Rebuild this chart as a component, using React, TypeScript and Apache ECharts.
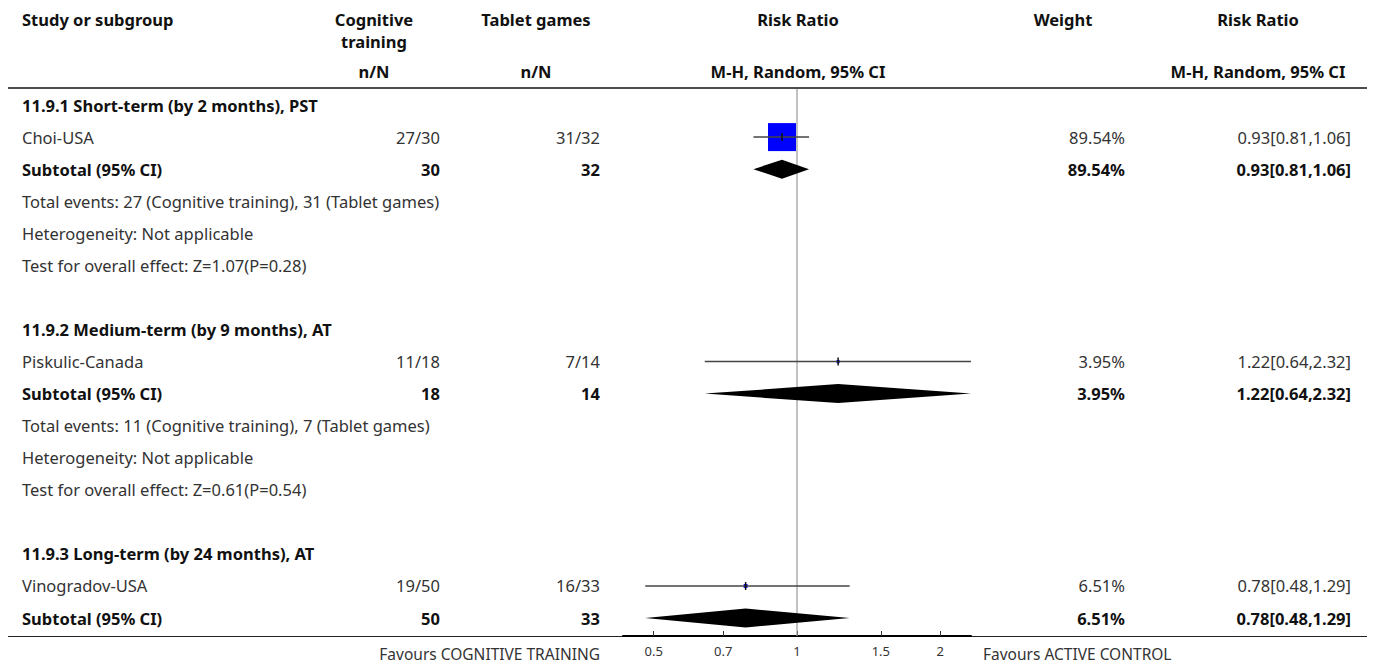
import React, { useEffect, useRef } from 'react';
import * as echarts from 'echarts';

// ---------- data ----------
const rowLabels = [
  '11.9.1 Short-term (by 2 months), PST',
  'Choi-USA',
  'Subtotal (95% CI)',
  'Total events: 27 (Cognitive training), 31 (Tablet games)',
  'Heterogeneity: Not applicable',
  'Test for overall effect: Z=1.07(P=0.28)',
  '',
  '11.9.2 Medium-term (by 9 months), AT',
  'Piskulic-Canada',
  'Subtotal (95% CI)',
  'Total events: 11 (Cognitive training), 7 (Tablet games)',
  'Heterogeneity: Not applicable',
  'Test for overall effect: Z=0.61(P=0.54)',
  '',
  '11.9.3 Long-term (by 24 months), AT',
  'Vinogradov-USA',
  'Subtotal (95% CI)',
];
const rowKinds = [
  'heading', 'study', 'subtotal', 'note', 'note', 'note', 'blank',
  'heading', 'study', 'subtotal', 'note', 'note', 'note', 'blank',
  'heading', 'study', 'subtotal',
];
const cognitiveValues = ['', '27/30', '30', '', '', '', '', '', '11/18', '18', '', '', '', '', '', '19/50', '50'];
const tabletValues = ['', '31/32', '32', '', '', '', '', '', '7/14', '14', '', '', '', '', '', '16/33', '33'];
const weightValues = ['', '89.54%', '89.54%', '', '', '', '', '', '3.95%', '3.95%', '', '', '', '', '', '6.51%', '6.51%'];
const ratioValues = [
  '', '0.93[0.81,1.06]', '0.93[0.81,1.06]', '', '', '', '', '',
  '1.22[0.64,2.32]', '1.22[0.64,2.32]', '', '', '', '', '',
  '0.78[0.48,1.29]', '0.78[0.48,1.29]',
];

const studyRows = [1, 8, 15];
const studyRR = [0.93, 1.22, 0.78];
const studyLow = [0.81, 0.64, 0.48];
const studyHigh = [1.06, 2.32, 1.29];
const studyWeight = [89.54, 3.95, 6.51];

const subtotalRows = [2, 9, 16];
const subtotalRR = [0.93, 1.22, 0.78];
const subtotalLow = [0.81, 0.64, 0.48];
const subtotalHigh = [1.06, 2.32, 1.29];

const tickValues = [0.5, 0.7, 1, 1.5, 2];
const axisMaxRatio = 2.32;

// ---------- styles ----------
const FONT = '"Noto Sans", Lato, sans-serif';
const FS = 16.5;
const BOLD_COLOR = '#111';
const TEXT_COLOR = '#333';

export default function App() {
  const ref = useRef<HTMLDivElement>(null);

  useEffect(() => {
    if (!ref.current) return;
    const chart = echarts.init(ref.current, null, { renderer: 'svg' });

    const headerText = (text: string, x: number, y: number, align: string) => ({
      type: 'text',
      style: {
        text, x, y, align, verticalAlign: 'middle',
        fontFamily: FONT, fontSize: FS, fontWeight: 'bold', fill: BOLD_COLOR,
      },
      z: 10,
    });

    const option: any = {
      animation: false,
      grid: { left: 623, top: 89, width: 348, height: 547, containLabel: false },
      xAxis: {
        type: 'value',
        position: 'bottom',
        min: Math.log(1 / axisMaxRatio),
        max: Math.log(axisMaxRatio),
        splitLine: { show: false },
        axisLine: { show: true, onZero: false, lineStyle: { color: '#000', width: 2 } },
        axisTick: {
          show: true, inside: true, length: 5,
          customValues: tickValues.map((v) => Math.log(v)),
          lineStyle: { color: '#333', width: 1 },
        },
        axisLabel: {
          show: true,
          customValues: tickValues.map((v) => Math.log(v)),
          formatter: (v: number) => String(parseFloat(Math.exp(v).toPrecision(2))),
          color: '#333', fontSize: 13, fontFamily: FONT, margin: 8,
        },
      },
      yAxis: {
        type: 'value', inverse: true, min: -0.5, max: 16.56,
        show: false, splitLine: { show: false },
      },
      graphic: [
        headerText('Study or subgroup', 22, 19, 'left'),
        headerText('Cognitive', 374, 19, 'center'),
        headerText('training', 374, 41, 'center'),
        headerText('Tablet games', 536, 19, 'center'),
        headerText('Risk Ratio', 798, 19, 'center'),
        headerText('Weight', 1063, 19, 'center'),
        headerText('Risk Ratio', 1258, 19, 'center'),
        headerText('n/N', 374, 71, 'center'),
        headerText('n/N', 536, 71, 'center'),
        headerText('M-H, Random, 95% CI', 798, 71, 'center'),
        headerText('M-H, Random, 95% CI', 1258, 71, 'center'),
        {
          type: 'line', shape: { x1: 8, y1: 88, x2: 1367, y2: 88 },
          style: { stroke: '#111', lineWidth: 1.5 }, z: 5,
        },
        {
          type: 'line', shape: { x1: 8, y1: 636.5, x2: 1367, y2: 636.5 },
          style: { stroke: '#222', lineWidth: 1 }, z: 0,
        },
        {
          type: 'text',
          style: {
            text: 'Favours COGNITIVE TRAINING', x: 600, y: 654, align: 'right', verticalAlign: 'middle',
            fontFamily: FONT, fontSize: 15.5, fill: TEXT_COLOR,
          },
        },
        {
          type: 'text',
          style: {
            text: 'Favours ACTIVE CONTROL', x: 983, y: 654, align: 'left', verticalAlign: 'middle',
            fontFamily: FONT, fontSize: 15.5, fill: TEXT_COLOR,
          },
        },
      ],
      series: [
        {
          type: 'line',
          data: [[0, -0.5], [0, 16.56]],
          symbol: 'none',
          lineStyle: { color: '#999', width: 1.2 },
          silent: true,
          z: 1,
        },
        {
          type: 'custom',
          z: 3,
          data: studyRows.map((r, i) => [Math.log(studyRR[i]), r, Math.log(studyLow[i]), Math.log(studyHigh[i]), studyWeight[i]]),
          renderItem: (params: any, api: any) => {
            const c = api.coord([api.value(0), api.value(1)]);
            const lo = api.coord([api.value(2), api.value(1)]);
            const hi = api.coord([api.value(3), api.value(1)]);
            const w = api.value(4);
            const side = 2 + 26 * w / 89.54;
            return {
              type: 'group',
              children: [
                {
                  type: 'rect',
                  shape: { x: c[0] - side / 2, y: c[1] - side / 2, width: side, height: side },
                  style: { fill: '#0000ff' },
                },
                {
                  type: 'line',
                  shape: { x1: lo[0], y1: c[1], x2: hi[0], y2: c[1] },
                  style: { stroke: '#444', lineWidth: 1.5 },
                },
                {
                  type: 'line',
                  shape: { x1: c[0], y1: c[1] - 4, x2: c[0], y2: c[1] + 4 },
                  style: { stroke: '#111', lineWidth: 1.5 },
                },
              ],
            };
          },
        },
        {
          type: 'custom',
          z: 3,
          data: subtotalRows.map((r, i) => [Math.log(subtotalRR[i]), r, Math.log(subtotalLow[i]), Math.log(subtotalHigh[i])]),
          renderItem: (params: any, api: any) => {
            const c = api.coord([api.value(0), api.value(1)]);
            const lo = api.coord([api.value(2), api.value(1)]);
            const hi = api.coord([api.value(3), api.value(1)]);
            const h = 9.5;
            return {
              type: 'polygon',
              shape: { points: [[lo[0], c[1]], [c[0], c[1] - h], [hi[0], c[1]], [c[0], c[1] + h]] },
              style: { fill: '#000' },
            };
          },
        },
        {
          type: 'custom',
          z: 4,
          data: rowLabels.map((_, i) => [0, i]),
          renderItem: (params: any, api: any) => {
            const i = params.dataIndex;
            const y = api.coord([0, api.value(1)])[1];
            const kind = rowKinds[i];
            const bold = kind === 'heading' || kind === 'subtotal';
            const mk = (text: string, x: number, align: string) => ({
              type: 'text',
              style: {
                text, x, y, align, verticalAlign: 'middle',
                fontFamily: FONT, fontSize: FS, fontWeight: bold ? 'bold' : 'normal',
                fill: bold ? BOLD_COLOR : TEXT_COLOR,
              },
            });
            const children: any[] = [];
            if (rowLabels[i]) children.push(mk(rowLabels[i], 22, 'left'));
            if (cognitiveValues[i]) children.push(mk(cognitiveValues[i], 440, 'right'));
            if (tabletValues[i]) children.push(mk(tabletValues[i], 600, 'right'));
            if (weightValues[i]) children.push(mk(weightValues[i], 1125, 'right'));
            if (ratioValues[i]) children.push(mk(ratioValues[i], 1351, 'right'));
            return { type: 'group', children };
          },
        },
      ],
    };

    chart.setOption(option);
    return () => chart.dispose();
  }, []);

  return (
    <div
      ref={ref}
      style={{ position: 'fixed', left: 0, top: 0, width: 1375, height: 666, background: '#fff' }}
    />
  );
}
